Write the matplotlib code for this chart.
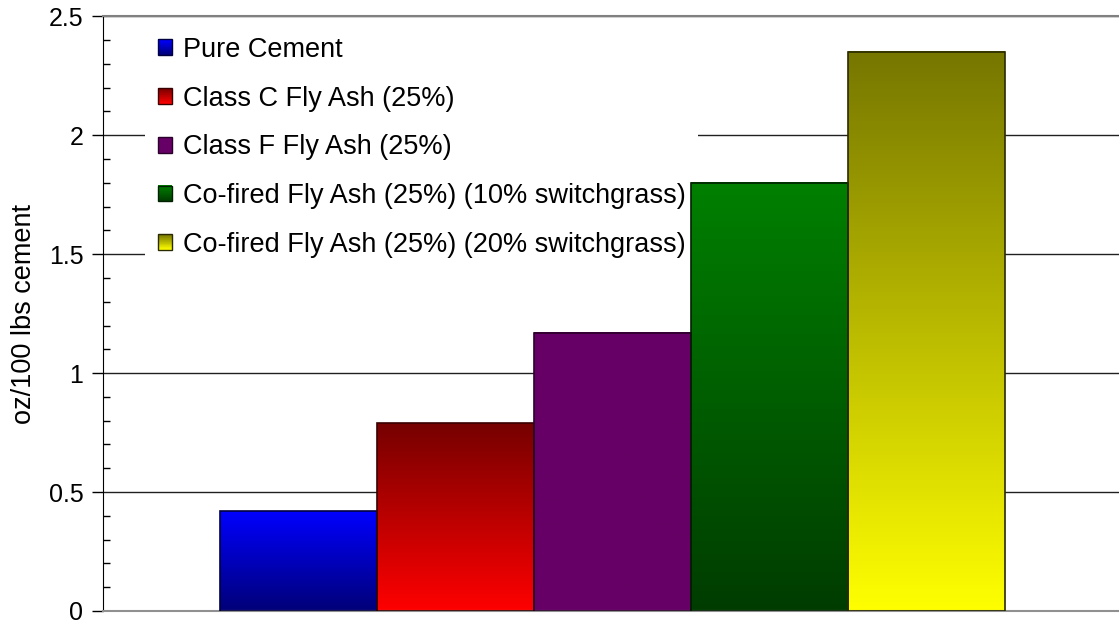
import matplotlib
matplotlib.use("Agg")
import matplotlib.pyplot as plt
import numpy as np
from matplotlib.colors import LinearSegmentedColormap
from matplotlib.legend_handler import HandlerBase
from matplotlib.patches import Rectangle, Patch
from matplotlib.ticker import MultipleLocator

plt.rcParams['font.family'] = ['Liberation Sans', 'DejaVu Sans']

labels = ["Pure Cement",
          "Class C Fly Ash (25%)",
          "Class F Fly Ash (25%)",
          "Co-fired Fly Ash (25%) (10% switchgrass)",
          "Co-fired Fly Ash (25%) (20% switchgrass)"]
values = [0.42, 0.79, 1.17, 1.80, 2.35]
# (top colour, bottom colour) of each bar's vertical gradient
top_colors = ["#0000ff", "#760000", "#660066", "#008000", "#767600"]
bottom_colors = ["#000078", "#ff0000", "#660066", "#003c00", "#ffff00"]
edge_colors = ["#000040", "#3a0000", "#2a002a", "#002000", "#2a2a00"]


def grad_cmap(top, bottom):
    return LinearSegmentedColormap.from_list("g", [bottom, top])


class GradientHandler(HandlerBase):
    def __init__(self, top, bottom, edge):
        super().__init__()
        self.cmap = grad_cmap(top, bottom)
        self.edge = edge

    def create_artists(self, legend, orig_handle, xdescent, ydescent,
                       width, height, fontsize, trans):
        n = 24
        out = []
        for i in range(n):
            r = Rectangle((-xdescent, -ydescent + height * i / n), width,
                          height / n + 0.2, facecolor=self.cmap(i / (n - 1)),
                          edgecolor="none", transform=trans)
            out.append(r)
        out.append(Rectangle((-xdescent, -ydescent), width, height,
                             facecolor="none", edgecolor=self.edge, lw=1.0,
                             transform=trans))
        return out


fig = plt.figure(figsize=(11.19, 6.26), dpi=100)
ax = fig.add_axes([0.0918, 0.024, 0.9082, 0.950])

x = np.arange(len(values))
bars = ax.bar(x, values, width=1.0, facecolor="none", zorder=3)
for b, top, bot, ec in zip(bars, top_colors, bottom_colors, edge_colors):
    x0, w, h = b.get_x(), b.get_width(), b.get_height()
    grad = np.linspace(1, 0, 256).reshape(-1, 1)
    ax.imshow(grad, cmap=grad_cmap(top, bot), aspect="auto",
              extent=(x0, x0 + w, 0, h), zorder=2, vmin=0, vmax=1)
    b.set_edgecolor(ec)
    b.set_linewidth(1.2)

ax.set_xlim(-1.25, 5.23)
ax.set_ylim(0, 2.5)
ax.yaxis.set_major_locator(MultipleLocator(0.5))
ax.yaxis.set_minor_locator(MultipleLocator(0.1))
ax.set_yticks([0, 0.5, 1, 1.5, 2, 2.5])
ax.set_yticklabels(["0", "0.5", "1", "1.5", "2", "2.5"])
ax.tick_params(axis="y", which="major", direction="out", length=8,
               width=1, labelsize=18, pad=6)
ax.tick_params(axis="y", which="minor", direction="in", length=5, width=1)
ax.set_xticks([])
ax.set_ylabel("oz/100 lbs cement", fontsize=19.5, labelpad=8)

ax.set_axisbelow(True)
ax.grid(axis="y", which="major", color="#202020", lw=1.0, zorder=0)
ax.spines["right"].set_visible(False)
ax.spines["top"].set_color("#808080")
ax.spines["top"].set_linewidth(1.5)
ax.spines["bottom"].set_color("#909090")
ax.spines["bottom"].set_linewidth(1.5)
ax.spines["left"].set_color("black")

proxies = [Patch(label=l) for l in labels]
hmap = {p: GradientHandler(t, b, e)
        for p, t, b, e in zip(proxies, top_colors, bottom_colors, edge_colors)}
leg = ax.legend(handles=proxies, handler_map=hmap, loc="upper left",
                bbox_to_anchor=(0.042, 0.986), fontsize=19.5, frameon=True,
                fancybox=False, edgecolor="none", framealpha=1,
                handlelength=0.52, handleheight=0.52, handletextpad=0.42,
                labelspacing=0.84, borderpad=0.45, borderaxespad=0)
# legend box sits above the grid but under the bars
leg.set_zorder(1)

fig.savefig("out.png", dpi=100)
